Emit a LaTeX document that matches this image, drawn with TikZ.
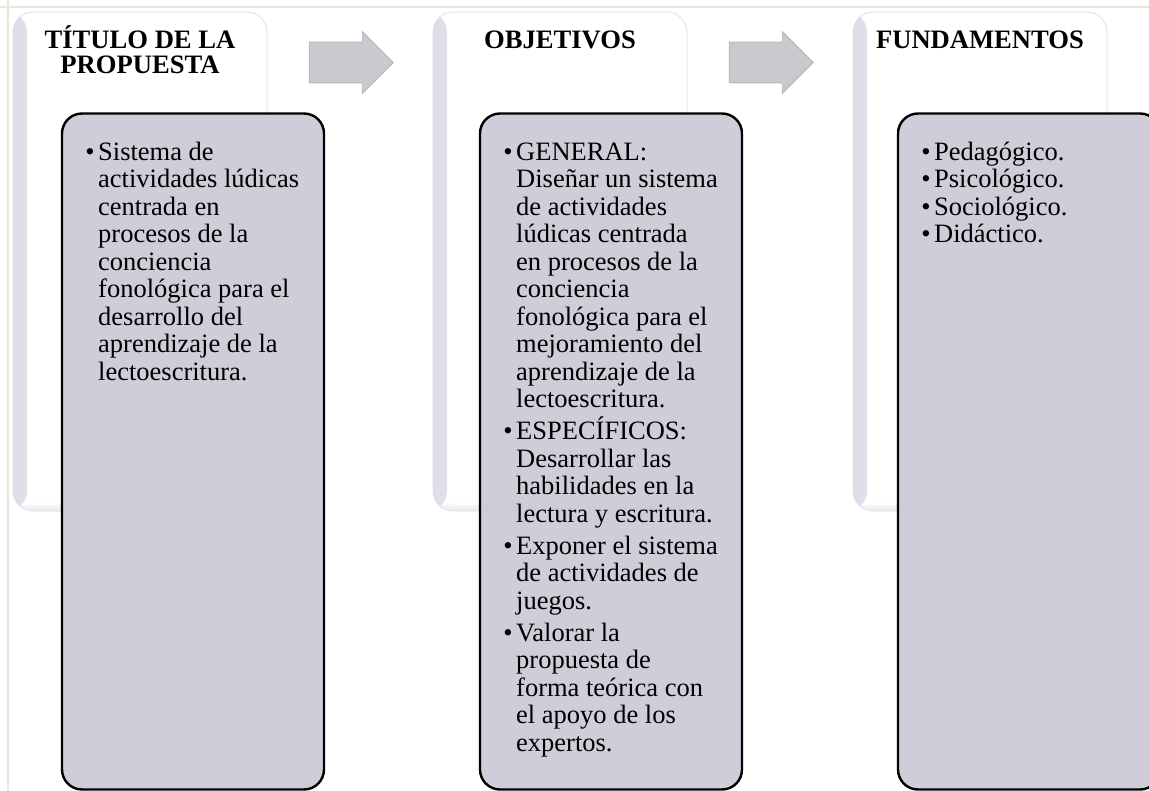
\documentclass[tikz,border=0pt]{standalone}
\usepackage{fontspec}
\setmainfont{Liberation Serif}
\usetikzlibrary{positioning, shapes.arrows}

\definecolor{panelEdge}{RGB}{222,222,232}
\definecolor{boxFill}{RGB}{202,201,213}
\definecolor{arrowFill}{RGB}{201,201,206}
\definecolor{arrowEdge}{RGB}{180,180,188}
\definecolor{frameLine}{RGB}{234,231,214}

% bullet hung in the margin, with a strut fixing the first baseline
\newcommand{\itemdot}{\rule{0pt}{20pt}\llap{\textbullet\hspace{3.5pt}}}
\newcommand{\headstrut}{\rule{0pt}{24pt}}

\tikzstyle{panel} = [rectangle, rounded corners=20pt, minimum width=254pt, minimum height=499pt, fill=white, draw=panelEdge, line width=0.8pt, path picture={\fill[left color=panelEdge, right color=white] (path picture bounding box.south west) rectangle ([xshift=14pt]path picture bounding box.north west); \fill[bottom color=panelEdge, top color=white, opacity=0.7] (path picture bounding box.south west) rectangle ([yshift=9pt]path picture bounding box.south east);}]
\tikzstyle{itembox} = [rectangle, rounded corners=20pt, minimum width=262pt, minimum height=676pt, draw=black, line width=2.4pt, fill=boxFill, fill opacity=0.92]
\tikzstyle{heading} = [font=\fontsize{26.6}{25.5}\selectfont\bfseries, align=center, anchor=north, inner sep=0pt]
\tikzstyle{items} = [font=\fontsize{26.5}{27.5}\selectfont, align=left, anchor=north west, inner sep=0pt]
\tikzstyle{blockarrow} = [single arrow, single arrow head extend=10.5pt, minimum height=84pt, inner xsep=0pt, inner ysep=20pt, fill=arrowFill, draw=arrowEdge, line width=0.8pt]

\begin{document}
\begin{tikzpicture}[x=1pt, y=-1pt, node distance=420pt]

\useasboundingbox (0,0) rectangle (1149,791);
\draw [frameLine, line width=1.2pt] (0,7) -- (1149,7);
\draw [frameLine, line width=1.2pt] (8,0) -- (8,791);

\node (panelA) [panel] at (140,261.5) {};
\node (panelB) [panel, right of=panelA] {};
\node (panelC) [panel, right of=panelB] {};

\node (arrowA) [blockarrow] at (341,62.5) {};
\node (arrowB) [blockarrow, right of=arrowA] {};

\node (titleA) [heading] at (140,24) {\headstrut TÍTULO DE LA\\PROPUESTA};
\node (titleB) [heading] at (560,24) {\headstrut OBJETIVOS};
\node (titleC) [heading] at (980,24) {\headstrut FUNDAMENTOS};

\node (boxA) [itembox] at (193,451.5) {};
\node (boxB) [itembox, right of=boxA, xshift=-2pt] {};
\node (boxC) [itembox, right of=boxB, xshift=-2pt] {};

\node (textA) [items] at (98,140) {\itemdot Sistema de\\actividades lúdicas\\centrada en\\procesos de la\\conciencia\\fonológica para el\\desarrollo del\\aprendizaje de la\\lectoescritura.};

\node (textB) [items] at (516,140) {\itemdot GENERAL:\\Diseñar un sistema\\de actividades\\lúdicas centrada\\en procesos de la\\conciencia\\fonológica para el\\mejoramiento del\\aprendizaje de la\\lectoescritura.\\[4.5pt]
\itemdot ESPECÍFICOS:\\Desarrollar las\\habilidades en la\\lectura y escritura.\\[4.5pt]
\itemdot Exponer el sistema\\de actividades de\\juegos.\\[4.5pt]
\itemdot Valorar la\\propuesta de\\forma teórica con\\el apoyo de los\\expertos.};

\node (textC) [items] at (934,140) {\itemdot Pedagógico.\\\itemdot Psicológico.\\\itemdot Sociológico.\\\itemdot Didáctico.};

\end{tikzpicture}
\end{document}
